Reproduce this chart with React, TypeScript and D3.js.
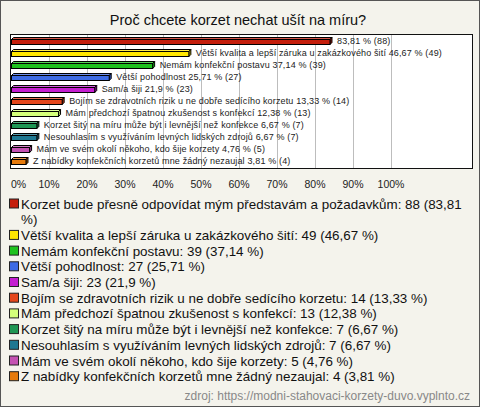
import React from "react";
import * as d3 from "d3";

const TITLE = "Proč chcete korzet nechat ušít na míru?";
const SOURCE = "zdroj: https://modni-stahovaci-korzety-duvo.vyplnto.cz";
const categories = [
  "Korzet bude přesně odpovídat mým představám a požadavkům",
  "Větší kvalita a lepší záruka u zakázkového šití",
  "Nemám konfekční postavu",
  "Větší pohodlnost",
  "Sam/a šiji",
  "Bojím se zdravotních rizik u ne dobře sedícího korzetu",
  "Mám předchozí špatnou zkušenost s konfekcí",
  "Korzet šitý na míru může být i levnější než konfekce",
  "Nesouhlasím s využíváním levných lidských zdrojů",
  "Mám ve svém okolí někoho, kdo šije korzety",
  "Z nabídky konfekčních korzetů mne žádný nezaujal",
];
const counts = [88, 49, 39, 27, 23, 14, 13, 7, 7, 5, 4];
const percents = [83.81, 46.67, 37.14, 25.71, 21.9, 13.33, 12.38, 6.67, 6.67, 4.76, 3.81];
const colors = [
  "#c41e0c", "#ffe600", "#1ec21e", "#3d6be4", "#c41ed0", "#e4461c",
  "#d4ff7a", "#1e9654", "#1e7892", "#c452b2", "#e67a0c",
];
const ticks = [0, 10, 20, 30, 40, 50, 60, 70, 80, 90, 100];

const W = 480, H = 407;
const FONT = "'Liberation Sans', Arial, sans-serif";
const fmt = (v: number) => String(v).replace(".", ",");

let measureText: SVGTextElement | null = null;
function measure(text: string, size: number) {
  if (!measureText) {
    const ns = "http://www.w3.org/2000/svg";
    const svg = document.createElementNS(ns, "svg");
    svg.setAttribute("width", "0");
    svg.setAttribute("height", "0");
    svg.style.position = "absolute";
    svg.style.visibility = "hidden";
    measureText = document.createElementNS(ns, "text") as SVGTextElement;
    measureText.setAttribute("font-family", FONT);
    svg.appendChild(measureText);
    document.body.appendChild(svg);
  }
  measureText.setAttribute("font-size", String(size));
  measureText.textContent = text;
  return measureText.getComputedTextLength();
}
function wrap(text: string, size: number, maxW: number) {
  const words = text.split(" ");
  const lines: string[] = [];
  let cur = "";
  for (const w of words) {
    const t = cur ? cur + " " + w : w;
    if (measure(t, size) > maxW && cur) { lines.push(cur); cur = w; } else cur = t;
  }
  if (cur) lines.push(cur);
  return lines;
}

export default function App() {
  const plot = { left: 10.5, right: 472.5, top: 34.5, bottom: 168.5 };
  const x = d3.scaleLinear().domain([0, 100]).range([11, 391]);
  const y = d3.scaleBand<number>().domain(d3.range(categories.length)).range([35, 167]);
  const barH = 5, depth = 2;
  const labelSize = 9, labelStretch = 1.035;

  const legendSize = 13.4;
  const legendX = 21;
  const lh = 15.7;
  let ly = 208.5;
  const legendItems = categories.map((c, i) => {
    const lines = wrap(`${c}: ${counts[i]} (${fmt(percents[i])} %)`, legendSize, 445);
    const item = { lines, y: ly, i };
    ly += lines.length * lh;
    return item;
  });

  return (
    <svg width={W} height={H} style={{ position: "absolute", left: 0, top: 0, display: "block" }}>
      <rect x={0.5} y={0.5} width={W - 1} height={H - 1} fill="#f4f3ec" stroke="#555" />
      <text x={238} y={25} textAnchor="middle" fontFamily={FONT} fontSize={14.5} fill="#111">{TITLE}</text>
      <rect x={plot.left} y={plot.top} width={plot.right - plot.left} height={plot.bottom - plot.top} fill="#fff" stroke="#111" />
      {ticks.filter(t => t > 0).map(t => (
        <line key={t} x1={Math.round(x(t)) + 0.5} x2={Math.round(x(t)) + 0.5} y1={plot.top + 0.5} y2={plot.bottom - 0.5} stroke="#bdbdbd" />
      ))}
      {categories.map((c, i) => {
        const x0 = x(0) + 0.5;
        const x1 = x(percents[i]) + 0.5;
        const top = (y(i) as number) + y.bandwidth() / 2 - barH / 2 + 1;
        const col = d3.color(colors[i])!;
        const light = d3.interpolateRgb(colors[i], "#fff")(0.25);
        const dark = col.darker(0.7).toString();
        const full = `${c} ${fmt(percents[i])} % (${counts[i]})`;
        const lx = x1 + depth + 5;
        const label = lx + measure(full, labelSize) * labelStretch > plot.right - 2 ? `${fmt(percents[i])} % (${counts[i]})` : full;
        const len = measure(label, labelSize) * labelStretch;
        return (
          <g key={i} stroke="#000" strokeWidth={1} strokeLinejoin="miter">
            <polygon points={`${x0},${top} ${x0 + depth},${top - depth} ${x1 + depth},${top - depth} ${x1},${top}`} fill={light} />
            <polygon points={`${x1},${top} ${x1 + depth},${top - depth} ${x1 + depth},${top + barH - depth} ${x1},${top + barH}`} fill={dark} />
            <rect x={x0} y={top} width={x1 - x0} height={barH} fill={colors[i]} />
            <text x={lx} y={top + barH / 2 + 2} stroke="none" fontFamily={FONT} fontSize={labelSize} textLength={len} lengthAdjust="spacing" fill="#222">{label}</text>
          </g>
        );
      })}
      {ticks.map(t => (
        <text key={t} x={t === 0 ? 11 : x(t)} y={188} textAnchor={t === 0 ? "start" : "middle"} fontFamily={FONT} fontSize={10.5} fill="#222">{`${t}%`}</text>
      ))}
      {legendItems.map(it => (
        <g key={it.i}>
          <rect x={9.5} y={it.y - 9.5} width={9} height={9} fill={colors[it.i]} stroke="#222" />
          {it.lines.map((l, k) => (
            <text key={k} x={legendX} y={it.y + k * lh} fontFamily={FONT} fontSize={legendSize} fill="#111">{l}</text>
          ))}
        </g>
      ))}
      <text x={470} y={400} textAnchor="end" fontFamily={FONT} fontSize={12} fill="#888">{SOURCE}</text>
    </svg>
  );
}
